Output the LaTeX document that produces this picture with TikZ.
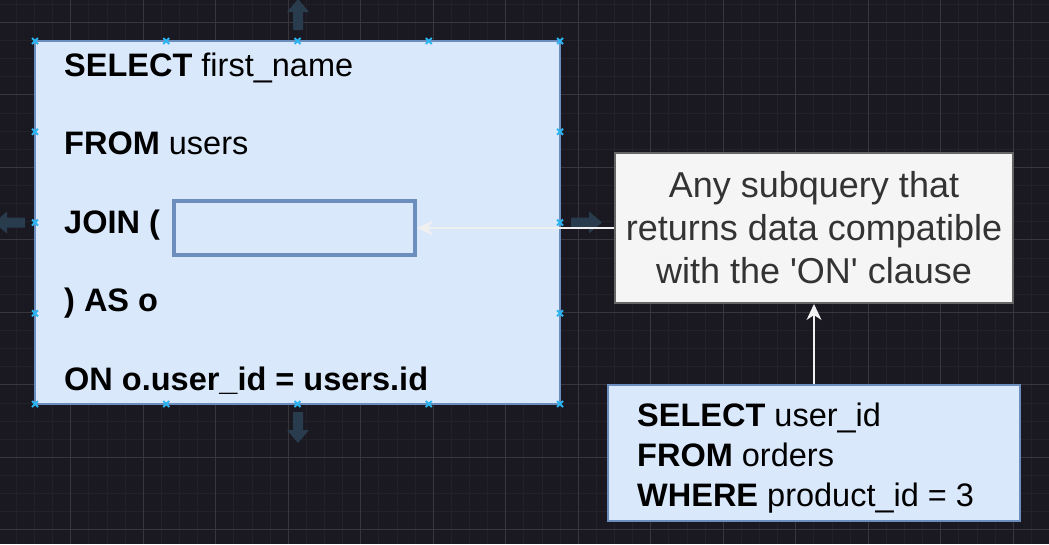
\documentclass[tikz,border=0pt]{standalone}
\usepackage{fontspec}
\newfontfamily\sqlfont{Liberation Sans}
\usetikzlibrary{arrows.meta}
\definecolor{bg}{HTML}{1A1820}
\definecolor{gridminor}{HTML}{232128}
\definecolor{gridmajor}{HTML}{38363D}
\definecolor{boxfill}{HTML}{DAE8FC}
\definecolor{boxborder}{HTML}{6C8EBF}
\definecolor{notefill}{HTML}{F5F5F5}
\definecolor{noteborder}{HTML}{666666}
\definecolor{notetext}{HTML}{333333}
\definecolor{connector}{HTML}{F0F0F0}
\definecolor{handlecol}{HTML}{29B6F2}
\definecolor{hovercol}{HTML}{283C4E}
\tikzset{
  bluebox/.style={rectangle, draw=boxborder, fill=boxfill, line width=2pt, inner sep=0pt},
  innerbox/.style={rectangle, draw=boxborder, fill=boxfill, line width=4pt, inner sep=0pt},
  notebox/.style={rectangle, draw=noteborder, fill=notefill, line width=2pt, inner sep=0pt,
    text=notetext, align=center, font=\sqlfont\fontsize{36}{43}\selectfont},
  sqltext/.style={anchor=base west, inner sep=0pt, text=black, font=\sqlfont\fontsize{32.5}{40}\selectfont},
  conn/.style={draw=connector, line width=2pt, -{Stealth[length=16pt,width=15pt,inset=5pt]}},
  handle/.style={draw=handlecol, line width=1.8pt},
  hover/.style={fill=hovercol},
  minorgrid/.style={draw=gridminor, line width=0.8pt},
  majorgrid/.style={draw=gridmajor, line width=1pt}
}
\begin{document}
\begin{tikzpicture}[x=1pt,y=-1pt]
\useasboundingbox (0,0) rectangle (1049,544);
\clip (0,0) rectangle (1049,544);
\fill[bg] (0,0) rectangle (1049,544);
% grid
\foreach \i in {0,...,58} {\draw[minorgrid] ({-1.8+\i*18.125},0) -- ++(0,544);}
\foreach \j in {0,...,30} {\draw[minorgrid] (0,{4.175+\j*18.125}) -- ++(1049,0);}
\foreach \i in {0,...,14} {\draw[majorgrid] ({-1.8+\i*72.5},0) -- ++(0,544);}
\foreach \j in {0,...,7} {\draw[majorgrid] (0,{22.3+\j*72.5}) -- ++(1049,0);}
% hover arrows
\fill[hover] (293,30) -- (293,12) -- (287,12) -- (298,-1) -- (309,12) -- (303,12) -- (303,30) -- cycle;
\fill[hover] (293,412) -- (293,430) -- (287,430) -- (298,443) -- (309,430) -- (303,430) -- (303,412) -- cycle;
\fill[hover] (571,217.5) -- (589,217.5) -- (589,211.5) -- (602,222.5) -- (589,233.5) -- (589,227.5) -- (571,227.5) -- cycle;
\fill[hover] (25,217.5) -- (7,217.5) -- (7,211.5) -- (-6,222.5) -- (7,233.5) -- (7,227.5) -- (25,227.5) -- cycle;
% boxes
\node[bluebox, minimum width=525pt, minimum height=363pt] (main) at (297.5,222.5) {};
\node[innerbox, minimum width=241pt, minimum height=54pt] (inner) at (294.5,227.5) {};
\node[notebox, minimum width=398pt, minimum height=150pt] (note) at (814,228)
  {Any subquery that\\returns data compatible\\with the 'ON' clause};
\node[bluebox, minimum width=412pt, minimum height=136pt] (sub) at (814,453) {};
% main text
\node[sqltext] (l1) at (64,76) {\bfseries SELECT\mdseries{} first\_name};
\node[sqltext] (l2) at (64,154.5) {\bfseries FROM\mdseries{} users};
\node[sqltext] (l3) at (64,233) {\bfseries JOIN (};
\node[sqltext] (l4) at (64,311) {\bfseries ) AS o};
\node[sqltext] (l5) at (64,390) {\bfseries ON o.user\_id = users.id};
% sub text
\node[sqltext] (s1) at (637,426) {\bfseries SELECT\mdseries{} user\_id};
\node[sqltext] (s2) at (637,466) {\bfseries FROM\mdseries{} orders};
\node[sqltext] (s3) at (637,506) {\bfseries WHERE\mdseries{} product\_id = 3};
% connectors
\draw[conn] (note.west) -- (note.west -| inner.east);
\draw[conn] (sub.north) -- (note.south);
% selection handles
\foreach \x in {35,166.25,297.5,428.75,560} {
  \foreach \y in {41,404} {
    \draw[handle] (\x-3,\y-3) -- (\x+3,\y+3) (\x-3,\y+3) -- (\x+3,\y-3);
  }
}
\foreach \x in {35,560} {
  \foreach \y in {131.75,222.5,313.25} {
    \draw[handle] (\x-3,\y-3) -- (\x+3,\y+3) (\x-3,\y+3) -- (\x+3,\y-3);
  }
}
\end{tikzpicture}
\end{document}
